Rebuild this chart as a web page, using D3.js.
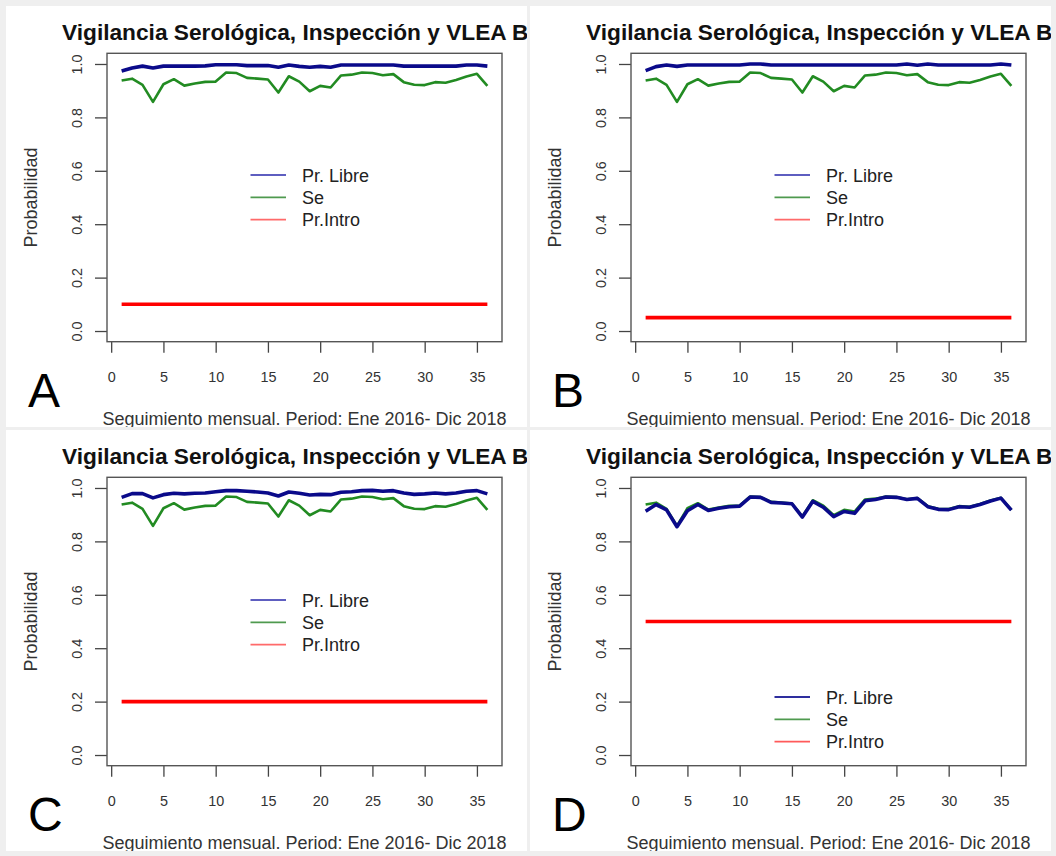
<!DOCTYPE html>
<html>
<head>
<meta charset="utf-8">
<script src="https://cdn.jsdelivr.net/npm/d3@7"></script>
<style>
  body { margin: 0; background: #efefef; }
  text { font-family: "Liberation Sans", Arial, sans-serif; }
</style>
</head>
<body>
<div id="chart"></div>
<script>
const width = 1056;
const height = 856;

// months 1..36
const months = [1, 2, 3, 4, 5, 6, 7, 8, 9, 10, 11, 12, 13, 14, 15, 16, 17, 18,
    19, 20, 21, 22, 23, 24, 25, 26, 27, 28, 29, 30, 31, 32, 33, 34, 35, 36];

// sensitivity (same in all panels)
const se = [0.938, 0.945, 0.922, 0.858, 0.924, 0.943, 0.919, 0.927, 0.933, 0.934, 0.968, 0.966,
    0.948, 0.945, 0.942, 0.893, 0.954, 0.934, 0.898, 0.918, 0.912, 0.957, 0.960, 0.968,
    0.966, 0.958, 0.962, 0.932, 0.922, 0.921, 0.932, 0.930, 0.940, 0.953, 0.963, 0.918];

// probability free, one series per panel
const libreA = [0.974, 0.985, 0.992, 0.985, 0.992, 0.992, 0.992, 0.992, 0.993, 0.997, 0.997, 0.997,
    0.994, 0.994, 0.994, 0.988, 0.996, 0.991, 0.988, 0.991, 0.988, 0.996, 0.996, 0.996,
    0.996, 0.996, 0.996, 0.992, 0.992, 0.992, 0.992, 0.992, 0.992, 0.996, 0.996, 0.992];
const libreB = [0.975, 0.990, 0.996, 0.991, 0.996, 0.996, 0.996, 0.996, 0.996, 0.996, 1.000, 1.000,
    0.996, 0.996, 0.996, 0.996, 0.996, 0.996, 0.996, 0.996, 0.996, 0.996, 0.996, 0.996,
    0.996, 1.000, 0.995, 1.000, 0.996, 0.996, 0.996, 0.996, 0.996, 0.996, 1.000, 0.996];
const libreC = [0.965, 0.979, 0.979, 0.963, 0.975, 0.980, 0.978, 0.980, 0.981, 0.986, 0.990, 0.990,
    0.988, 0.985, 0.981, 0.970, 0.985, 0.980, 0.974, 0.976, 0.975, 0.984, 0.986, 0.990,
    0.991, 0.988, 0.990, 0.981, 0.976, 0.978, 0.981, 0.978, 0.981, 0.988, 0.990, 0.978];
const libreD = [0.913, 0.938, 0.918, 0.855, 0.915, 0.938, 0.916, 0.924, 0.930, 0.932, 0.966, 0.965,
    0.946, 0.944, 0.941, 0.891, 0.950, 0.928, 0.893, 0.912, 0.905, 0.952, 0.957, 0.966,
    0.965, 0.957, 0.961, 0.930, 0.920, 0.919, 0.930, 0.928, 0.938, 0.951, 0.962, 0.917];

// introduction probability per panel
const intro = [0.1, 0.05, 0.2, 0.5];
const panelLetters = ["A", "B", "C", "D"];
const libreSeries = [libreA, libreB, libreC, libreD];

const xTicks = [0, 5, 10, 15, 20, 25, 30, 35];
const yTicks = [0, 0.2, 0.4, 0.6, 0.8, 1.0];
const legendLabels = ["Pr. Libre", "Se", "Pr.Intro"];

// the title runs past the panel edge in the original and is cut there
const titleText = "Vigilancia Serológica, Inspección y VLEA Br";
const xLabel = "Seguimiento mensual. Period: Ene 2016- Dic 2018";
const yLabel = "Probabilidad";

const colBlue = "#0a0a8a";
const colGreen = "#228b22";
const colRed = "#ff0000";
const legendCols = [["#5e5ec0", "#4f9a4f", "#ff6a6a"], ["#5e5ec0", "#4f9a4f", "#ff6a6a"],
    ["#5e5ec0", "#4f9a4f", "#ff6a6a"], ["#2e2e9e", "#4f9a4f", "#ff5a5a"]];

const panelW = 521, panelH = 421;
const panelPos = [[6, 6], [530, 6], [6, 430], [530, 430]];
// legend top (first row) inside each panel
const legendTop = [169, 169, 170, 267];

const box = { left: 101, right: 496, top: 47.3, bottom: 335.7 };

const x = d3.scaleLinear().domain([-0.4, 37.4]).range([box.left, box.right]);
const y = d3.scaleLinear().domain([-0.04, 1.04]).range([box.bottom, box.top]);

const svg = d3.select("#chart")
    .append("svg")
    .attr("width", width)
    .attr("height", height);

svg.append("rect")
    .attr("width", width)
    .attr("height", height)
    .attr("fill", "#efefef");

const defs = svg.append("defs");
defs.append("clipPath").attr("id", "panelClip")
    .append("rect").attr("width", panelW).attr("height", panelH);

const line = d3.line()
    .x((d, i) => x(months[i]))
    .y(d => y(d));

panelPos.forEach((pos, p) => {
    const g = svg.append("g")
        .attr("transform", `translate(${pos[0]},${pos[1]})`)
        .attr("clip-path", "url(#panelClip)");

    g.append("rect")
        .attr("width", panelW)
        .attr("height", panelH)
        .attr("fill", "#ffffff");

    // title (clipped at the panel edge like the original)
    g.append("text")
        .attr("x", 56)
        .attr("y", 34)
        .attr("font-size", 22.7)
        .attr("font-weight", "bold")
        .attr("fill", "#111")
        .text(titleText);

    // y axis
    const yAxis = g.append("g")
        .attr("transform", `translate(${box.left},0)`)
        .call(d3.axisLeft(y).tickValues(yTicks).tickSize(12).tickPadding(0).tickFormat(d3.format(".1f")));
    yAxis.select(".domain").remove();
    yAxis.selectAll("line").attr("stroke", "#444").attr("stroke-width", 1.3);
    yAxis.selectAll("text")
        .attr("x", 0)
        .attr("y", -25.5)
        .attr("dy", null)
        .attr("transform", "rotate(-90)")
        .attr("text-anchor", "middle")
        .attr("font-size", 14.4)
        .attr("font-family", "Liberation Sans, Arial, sans-serif")
        .attr("fill", "#333");

    // x axis
    const xAxis = g.append("g")
        .attr("transform", `translate(0,${box.bottom})`)
        .call(d3.axisBottom(x).tickValues(xTicks).tickSize(11).tickPadding(0));
    xAxis.select(".domain").remove();
    xAxis.selectAll("line").attr("stroke", "#444").attr("stroke-width", 1.3);
    xAxis.selectAll("text")
        .attr("y", 40)
        .attr("dy", null)
        .attr("font-size", 14.4)
        .attr("font-family", "Liberation Sans, Arial, sans-serif")
        .attr("fill", "#333");

    // axis labels
    g.append("text")
        .attr("x", (box.left + box.right) / 2)
        .attr("y", 419)
        .attr("text-anchor", "middle")
        .attr("font-size", 18)
        .attr("fill", "#333")
        .text(xLabel);

    g.append("text")
        .attr("transform", `translate(30.5,${(box.top + box.bottom) / 2}) rotate(-90)`)
        .attr("text-anchor", "middle")
        .attr("font-size", 18)
        .attr("fill", "#333")
        .text(yLabel);

    // series
    g.append("path")
        .datum(se)
        .attr("d", line)
        .attr("fill", "none")
        .attr("stroke", colGreen)
        .attr("stroke-width", 2.6)
        .attr("stroke-linejoin", "round");

    g.append("path")
        .datum(libreSeries[p])
        .attr("d", line)
        .attr("fill", "none")
        .attr("stroke", colBlue)
        .attr("stroke-width", 3.6)
        .attr("stroke-linejoin", "round");

    g.append("path")
        .datum(months.map(() => intro[p]))
        .attr("d", line)
        .attr("fill", "none")
        .attr("stroke", colRed)
        .attr("stroke-width", 3.6);

    // plot box
    g.append("rect")
        .attr("x", box.left)
        .attr("y", box.top)
        .attr("width", box.right - box.left)
        .attr("height", box.bottom - box.top)
        .attr("fill", "none")
        .attr("stroke", "#555")
        .attr("stroke-width", 1.4);

    // legend
    const leg = g.append("g").attr("transform", `translate(0,${legendTop[p]})`);
    legendLabels.forEach((lab, i) => {
        leg.append("line")
            .attr("x1", 244.5).attr("x2", 280)
            .attr("y1", i * 22.3).attr("y2", i * 22.3)
            .attr("stroke", legendCols[p][i])
            .attr("stroke-width", 1.8);
        leg.append("text")
            .attr("x", 296)
            .attr("y", i * 22.3 + 6.5)
            .attr("font-size", 18)
            .attr("fill", "#222")
            .text(lab);
    });

    // panel letter
    g.append("text")
        .attr("x", 22)
        .attr("y", 401)
        .attr("font-size", 48)
        .attr("fill", "#000")
        .text(panelLetters[p]);
});
</script>
</body>
</html>
